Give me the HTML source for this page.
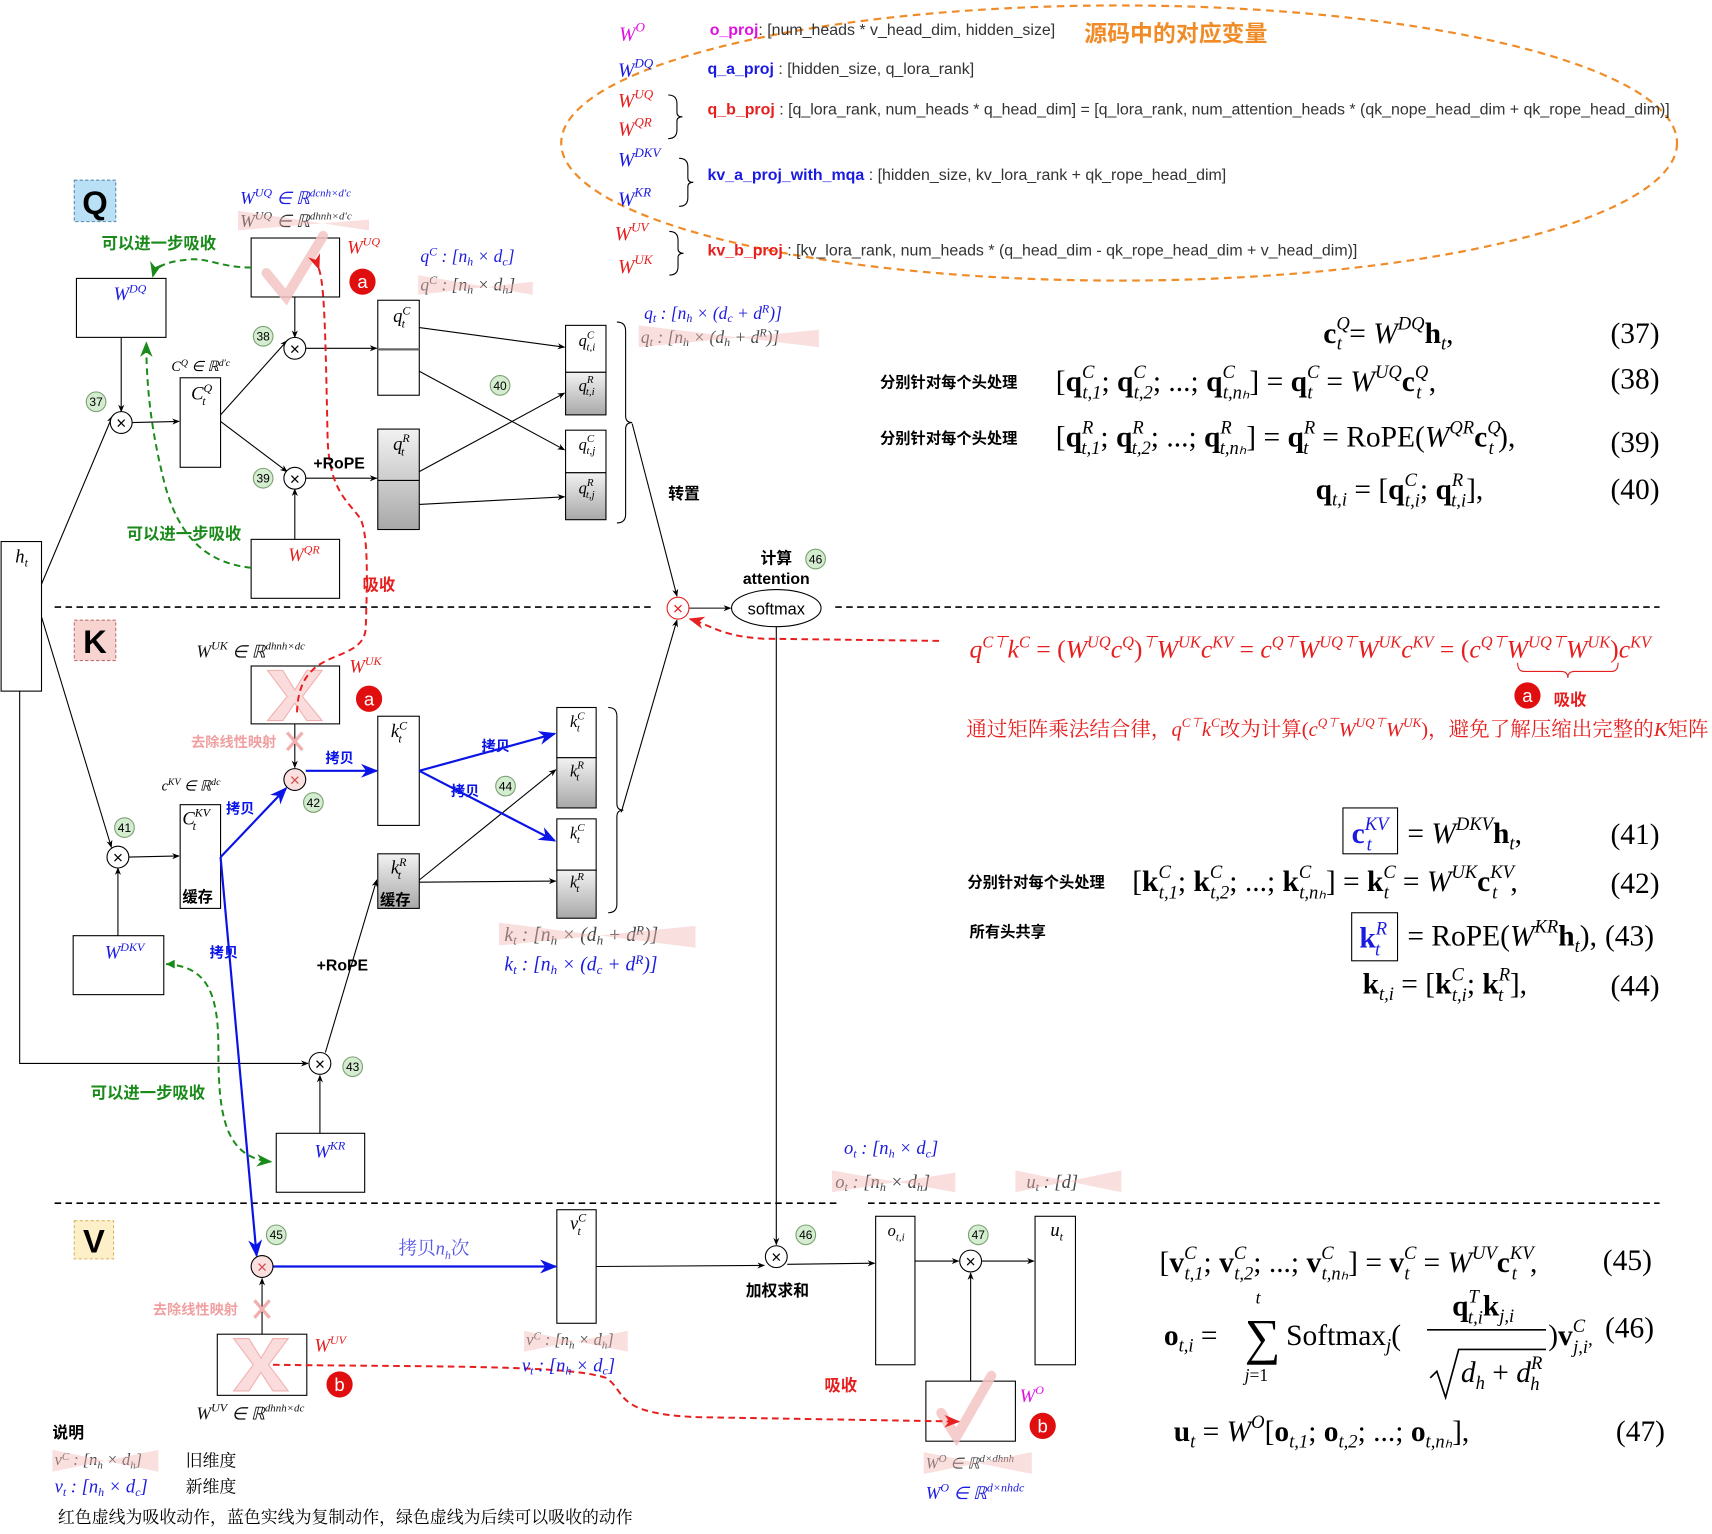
<!DOCTYPE html>
<html><head><meta charset="utf-8"><style>
html,body{margin:0;padding:0;background:#fff}
svg{display:block}
.t{font-family:"Liberation Sans","Noto Sans CJK SC",sans-serif}
.s{font-family:"Liberation Serif","Noto Serif CJK SC",serif}
.m{font-family:"Liberation Serif",serif;font-style:italic}
.cb{font-family:"Liberation Sans","Noto Sans CJK SC",sans-serif;font-weight:bold}
</style></head><body>
<svg width="1712" height="1534" viewBox="0 0 1568 1405" xmlns="http://www.w3.org/2000/svg">
<defs>
<marker id="ak" viewBox="0 0 10 10" refX="9" refY="5" markerWidth="7" markerHeight="7" orient="auto"><path d="M0,1 L10,5 L0,9 L3,5z" fill="#000"/></marker>
<marker id="ab" viewBox="0 0 10 10" refX="9" refY="5" markerWidth="8" markerHeight="8" orient="auto"><path d="M0,1 L10,5 L0,9 L3,5z" fill="#0a14e6"/></marker>
<marker id="ar" viewBox="0 0 10 10" refX="9" refY="5" markerWidth="8" markerHeight="8" orient="auto"><path d="M0,1 L10,5 L0,9 L3,5z" fill="#e62020"/></marker>
<marker id="ag" viewBox="0 0 10 10" refX="9" refY="5" markerWidth="8" markerHeight="8" orient="auto"><path d="M0,1 L10,5 L0,9 L3,5z" fill="#1a8a1a"/></marker>
<linearGradient id="gr" x1="0" y1="0" x2="0" y2="1"><stop offset="0" stop-color="#f2f2f2"/><stop offset="1" stop-color="#a8a8a8"/></linearGradient>
</defs>

<ellipse cx="1025" cy="131" rx="511" ry="126" fill="none" stroke="#f08c28" stroke-width="2" stroke-dasharray="7,5"/>
<g class="m" font-size="18">
<text x="567" y="37" fill="#e010e0">W<tspan dy="-8" font-size="12">O</tspan></text>
<text x="566" y="70" fill="#1a1ae0">W<tspan dy="-8" font-size="12">DQ</tspan></text>
<text x="566" y="98" fill="#e61e1e">W<tspan dy="-8" font-size="12">UQ</tspan></text>
<text x="566" y="124" fill="#e61e1e">W<tspan dy="-8" font-size="12">QR</tspan></text>
<text x="566" y="152" fill="#1a1ae0">W<tspan dy="-8" font-size="12">DKV</tspan></text>
<text x="566" y="188" fill="#1a1ae0">W<tspan dy="-8" font-size="12">KR</tspan></text>
<text x="563" y="220" fill="#e61e1e">W<tspan dy="-8" font-size="12">UV</tspan></text>
<text x="566" y="250" fill="#e61e1e">W<tspan dy="-8" font-size="12">UK</tspan></text>
</g>
<g fill="none" stroke="#000" stroke-width="1">
<path d="M612,87 q8,0 8,8 v8 q0,4 5,4 q-5,0 -5,4 v8 q0,8 -8,8"/>
<path d="M622,145 q8,0 8,8 v10 q0,4 5,4 q-5,0 -5,4 v10 q0,8 -8,8"/>
<path d="M613,212 q8,0 8,8 v8 q0,4 5,4 q-5,0 -5,4 v8 q0,8 -8,8"/>
</g>
<g class="t" font-size="14.6" fill="#333">
<text x="650" y="32"><tspan fill="#e010e0" font-weight="bold">o_proj</tspan>: [num_heads * v_head_dim, hidden_size]</text>
<text x="648" y="68"><tspan fill="#1a1ae0" font-weight="bold">q_a_proj</tspan> :  [hidden_size, q_lora_rank]</text>
<text x="648" y="105"><tspan fill="#e61e1e" font-weight="bold">q_b_proj</tspan> : [q_lora_rank, num_heads * q_head_dim] = [q_lora_rank, num_attention_heads * (qk_nope_head_dim + qk_rope_head_dim)]</text>
<text x="648" y="165"><tspan fill="#1a1ae0" font-weight="bold">kv_a_proj_with_mqa</tspan> : [hidden_size,   kv_lora_rank + qk_rope_head_dim]</text>
<text x="648" y="234"><tspan fill="#e61e1e" font-weight="bold">kv_b_proj</tspan> : [kv_lora_rank,   num_heads * (q_head_dim - qk_rope_head_dim + v_head_dim)]</text>
</g>
<text x="993" y="38" class="cb" font-size="21" fill="#f08c28">源码中的对应变量</text>

<rect x="68" y="165" width="38" height="38" fill="#b9e0f5" stroke="#5a8ab0" stroke-dasharray="3,2"/>
<text x="87" y="196" class="t" font-size="30" font-weight="bold" text-anchor="middle">Q</text>
<rect x="68" y="568" width="38" height="37" fill="#f8d4d0" stroke="#c07070" stroke-dasharray="3,2"/>
<text x="87" y="598" class="t" font-size="30" font-weight="bold" text-anchor="middle">K</text>
<rect x="68" y="1118" width="36" height="35" fill="#fdf0c8" stroke="#d8b860" stroke-dasharray="3,2"/>
<text x="86" y="1147" class="t" font-size="30" font-weight="bold" text-anchor="middle">V</text>

<g stroke="#000" stroke-width="1.5" stroke-dasharray="6,4">
<line x1="50" y1="556" x2="600" y2="556"/><line x1="765" y1="556" x2="1520" y2="556"/>
<line x1="50" y1="1102" x2="767" y2="1102"/><line x1="795" y1="1102" x2="1520" y2="1102"/>
</g>

<g fill="#fff" stroke="#000" stroke-width="1">
<rect x="1" y="496" width="37" height="137"/>
<rect x="70" y="255" width="82" height="54"/>
<rect x="230" y="218" width="81" height="54"/>
<rect x="165" y="346" width="37" height="82"/>
<rect x="346" y="275" width="38" height="87"/>
<rect x="230" y="494" width="81" height="54"/>
<rect x="518" y="298" width="37" height="43"/>
<rect x="518" y="394" width="37" height="39"/>
<rect x="230" y="610" width="81" height="53"/>
<rect x="346" y="656" width="38" height="100"/>
<rect x="510" y="648" width="36" height="46"/>
<rect x="510" y="750" width="36" height="47"/>
<rect x="165" y="737" width="37" height="95"/>
<rect x="67" y="857" width="83" height="54"/>
<rect x="253" y="1038" width="81" height="54"/>
<rect x="510" y="1108" width="36" height="104"/>
<rect x="802" y="1114" width="36" height="136"/>
<rect x="948" y="1114" width="37" height="136"/>
<rect x="199" y="1222" width="82" height="56"/>
<rect x="848" y="1265" width="82" height="55"/>
</g>
<g fill="url(#gr)" stroke="#000" stroke-width="1">
<rect x="346" y="393" width="38" height="92"/>
<rect x="518" y="341" width="37" height="39"/>
<rect x="518" y="433" width="37" height="43"/>
<rect x="510" y="694" width="36" height="46"/>
<rect x="510" y="797" width="36" height="44"/>
<rect x="346" y="782" width="38" height="50"/>
</g>
<line x1="346" y1="320" x2="384" y2="320" stroke="#666" stroke-width="2"/>
<line x1="346" y1="440" x2="384" y2="440" stroke="#000"/>

<g fill="#fbd9d9" stroke="#f0a8a8" stroke-width="1" opacity="0.9">
<path d="M245,614 h14 l11,18 l11,-18 h14 l-18,24 l18,22 h-14 l-11,-16 l-11,16 h-14 l18,-22z"/>
<path d="M214,1226 h14 l11,18 l11,-18 h14 l-18,24 l18,24 h-14 l-11,-17 l-11,17 h-14 l18,-24z"/>
</g>
<g fill="none" stroke="#f5c4c4" stroke-width="9" stroke-linecap="round" opacity="0.85">
<path d="M244,250 l18,22 l34,-56"/>
<path d="M862,1294 l14,22 l32,-56"/>
</g>

<g stroke="#000" stroke-width="1" fill="none" marker-end="url(#ak)">
<line x1="38" y1="535" x2="103" y2="381"/>
<line x1="38" y1="565" x2="102" y2="776"/>
<line x1="111" y1="309" x2="111" y2="377"/>
<line x1="121" y1="387" x2="164" y2="386"/>
<line x1="202" y1="380" x2="263" y2="312"/>
<line x1="202" y1="386" x2="263" y2="432"/>
<line x1="270" y1="272" x2="270" y2="309"/>
<line x1="280" y1="319" x2="345" y2="319"/>
<line x1="270" y1="494" x2="270" y2="448"/>
<line x1="280" y1="438" x2="345" y2="438"/>
<line x1="384" y1="300" x2="517" y2="318"/>
<line x1="384" y1="340" x2="517" y2="412"/>
<line x1="384" y1="432" x2="517" y2="360"/>
<line x1="384" y1="462" x2="517" y2="455"/>
<line x1="579" y1="388" x2="620" y2="546"/>
<line x1="631" y1="557" x2="669" y2="557"/>
<line x1="569" y1="744" x2="620" y2="568"/>
<line x1="270" y1="663" x2="270" y2="703"/>
<line x1="118" y1="785" x2="164" y2="784"/>
<line x1="108" y1="857" x2="108" y2="795"/>
<path d="M18,633 V974 H282"/>
<line x1="293" y1="1038" x2="293" y2="985"/>
<line x1="298" y1="964" x2="345" y2="806"/>
<line x1="384" y1="808" x2="509" y2="807"/>
<line x1="384" y1="806" x2="509" y2="705"/>
<line x1="711" y1="574" x2="711" y2="1140"/>
<line x1="546" y1="1160" x2="700" y2="1159"/>
<line x1="721" y1="1158" x2="801" y2="1157"/>
<line x1="838" y1="1155" x2="878" y2="1155"/>
<line x1="899" y1="1155" x2="947" y2="1155"/>
<line x1="889" y1="1265" x2="889" y2="1166"/>
<line x1="240" y1="1222" x2="240" y2="1171"/>
</g>
<path d="M565,295 q8,0 8,8 v78 q0,6 6,6 q-6,0 -6,6 v78 q0,8 -8,8" fill="none" stroke="#000"/>
<path d="M557,648 q8,0 8,8 v80 q0,6 6,6 q-6,0 -6,6 v80 q0,8 -8,8" fill="none" stroke="#000"/>

<g stroke="#0a14e6" stroke-width="2" fill="none" marker-end="url(#ab)">
<line x1="280" y1="706" x2="345" y2="706"/>
<line x1="384" y1="706" x2="508" y2="672"/>
<line x1="384" y1="706" x2="508" y2="770"/>
<line x1="202" y1="785" x2="262" y2="722"/>
<line x1="202" y1="785" x2="235" y2="1150"/>
<line x1="250" y1="1160" x2="509" y2="1160"/>
</g>

<g fill="#fff" stroke="#000" stroke-width="1">
<circle cx="111" cy="387" r="10"/><circle cx="270" cy="319" r="10"/><circle cx="270" cy="438" r="10"/>
<circle cx="108" cy="785" r="10"/><circle cx="293" cy="974" r="10"/>
<circle cx="711" cy="1151" r="10"/><circle cx="889" cy="1155" r="10"/>
</g>
<circle cx="621" cy="557" r="10" fill="#fff" stroke="#e61e1e"/>
<g fill="#fbe0e0" stroke="#000" stroke-width="1">
<circle cx="270" cy="714" r="10"/><circle cx="240" cy="1160" r="10"/>
</g>
<g class="t" font-size="16" text-anchor="middle" fill="#000">
<text x="111" y="393">×</text><text x="270" y="325">×</text><text x="270" y="444">×</text>
<text x="108" y="791">×</text><text x="293" y="980">×</text><text x="711" y="1157">×</text><text x="889" y="1161">×</text>
<text x="270" y="720" fill="#d05050">×</text><text x="240" y="1166" fill="#d05050">×</text>
<text x="621" y="563" fill="#e61e1e">×</text>
</g>
<ellipse cx="711" cy="557" rx="41" ry="17" fill="#fff" stroke="#000"/>
<text x="711" y="563" class="t" font-size="15" text-anchor="middle">softmax</text>

<g fill="#d4ecd0" stroke="#7aa070" stroke-width="1">
<circle cx="88" cy="368" r="9"/><circle cx="241" cy="308" r="9"/><circle cx="241" cy="438" r="9"/>
<circle cx="458" cy="353" r="9"/><circle cx="747" cy="512" r="9"/><circle cx="114" cy="758" r="9"/>
<circle cx="287" cy="735" r="9"/><circle cx="463" cy="720" r="9"/><circle cx="323" cy="977" r="9"/>
<circle cx="253" cy="1131" r="9"/><circle cx="738" cy="1131" r="9"/><circle cx="896" cy="1131" r="9"/>
</g>
<g class="t" font-size="11" text-anchor="middle">
<text x="88" y="372">37</text><text x="241" y="312">38</text><text x="241" y="442">39</text>
<text x="458" y="357">40</text><text x="747" y="516">46</text><text x="114" y="762">41</text>
<text x="287" y="739">42</text><text x="463" y="724">44</text><text x="323" y="981">43</text>
<text x="253" y="1135">45</text><text x="738" y="1135">46</text><text x="896" y="1135">47</text>
</g>

<g stroke="#1a8a1a" stroke-width="1.8" fill="none" stroke-dasharray="6,4">
<path d="M230,245 C200,245 190,235 170,238 C150,240 142,245 140,253" marker-end="url(#ag)"/>
<path d="M230,520 C180,515 160,480 150,440 C140,400 134,360 134,314" marker-end="url(#ag)"/>
<path d="M152,883 C190,885 200,910 200,960 C200,1020 205,1060 248,1064" marker-end="url(#ag)"/>
</g>
<path d="M160,879 l-8,4 l8,4z" fill="#1a8a1a"/>
<g class="cb" font-size="15" fill="#1a8a1a">
<text x="93" y="228">可以进一步吸收</text>
<text x="116" y="494">可以进一步吸收</text>
<text x="83" y="1006">可以进一步吸收</text>
</g>

<g stroke="#e61e1e" stroke-width="1.8" fill="none" stroke-dasharray="6,4">
<path d="M292,246 C297,260 298,300 300,400 C301,450 320,460 330,475 C338,490 336,540 335,575 C334,600 300,598 285,615 C275,625 272,640 272,655" marker-start="url(#ar)"/>
<path d="M860,587 L700,585 C660,583 650,572 632,567" marker-end="url(#ar)"/>
<path d="M250,1250 C400,1252 520,1250 555,1262 C575,1275 560,1295 640,1298 L878,1302" marker-end="url(#ar)"/>
</g>
<g class="cb" font-size="15" fill="#e61e1e">
<text x="332" y="541">吸收</text>
<text x="755" y="1274">吸收</text>
<text x="1423" y="646">吸收</text>
</g>
<g fill="#e00e0e">
<circle cx="332" cy="258" r="12"/><circle cx="338" cy="640" r="12"/><circle cx="311" cy="1268" r="12"/>
<circle cx="955" cy="1306" r="12"/><circle cx="1399" cy="637" r="12"/>
</g>
<g class="t" font-size="17" fill="#fff" text-anchor="middle">
<text x="332" y="264">a</text><text x="338" y="646">a</text><text x="311" y="1274">b</text>
<text x="955" y="1312">b</text><text x="1399" y="643">a</text>
</g>

<g class="cb" font-size="14.5">
<text x="287" y="429">+RoPE</text>
<text x="290" y="889">+RoPE</text>
<text x="612" y="457">转置</text>
<text x="711" y="516" text-anchor="middle">计算</text>
<text x="711" y="535" text-anchor="middle">attention</text>
<text x="712" y="1187" text-anchor="middle">加权求和</text>
<text x="167" y="826" font-size="14">缓存</text>
<text x="348" y="829" font-size="14">缓存</text>
<text x="48" y="1317">说明</text>
</g>
<g class="cb" font-size="13" fill="#0a14e6">
<text x="298" y="699">拷贝</text><text x="441" y="688">拷贝</text><text x="413" y="729">拷贝</text>
<text x="207" y="745">拷贝</text><text x="192" y="877">拷贝</text>
</g>
<text x="365" y="1149" class="s" font-size="17" fill="#5a5ae8">拷贝<tspan class="m">n</tspan><tspan class="m" font-size="11" dy="4">h</tspan><tspan dy="-4">次</tspan></text>
<g class="cb" font-size="13" fill="#f0a0a0">
<text x="175" y="684">去除线性映射</text><text x="140" y="1204">去除线性映射</text>
</g>
<g stroke="#f0b0b0" stroke-width="3"><path d="M263,671 l14,16 M277,671 l-14,16"/><path d="M233,1191 l14,16 M247,1191 l-14,16"/></g>

<g class="m" font-size="17">
<text x="14" y="515">h<tspan font-size="11" dy="4">t</tspan></text>
<text x="104" y="275" fill="#1a1ae0">W<tspan font-size="11" dy="-7">DQ</tspan></text>
<text x="318" y="232" fill="#e61e1e">W<tspan font-size="11" dy="-7">UQ</tspan></text>
<text x="175" y="366">C<tspan font-size="11" dy="-7">Q</tspan><tspan font-size="11" dx="-9" dy="12">t</tspan></text>
<text x="360" y="295">q<tspan font-size="11" dy="-7">C</tspan><tspan font-size="11" dx="-8" dy="12">t</tspan></text>
<text x="360" y="412">q<tspan font-size="11" dy="-7">R</tspan><tspan font-size="11" dx="-8" dy="12">t</tspan></text>
<text x="264" y="514" fill="#e61e1e">W<tspan font-size="11" dy="-7">QR</tspan></text>
<text x="530" y="317" font-size="15">q<tspan font-size="10" dy="-7">C</tspan><tspan font-size="10" dx="-7" dy="11">t,i</tspan></text>
<text x="530" y="358" font-size="15">q<tspan font-size="10" dy="-7">R</tspan><tspan font-size="10" dx="-7" dy="11">t,i</tspan></text>
<text x="530" y="412" font-size="15">q<tspan font-size="10" dy="-7">C</tspan><tspan font-size="10" dx="-7" dy="11">t,j</tspan></text>
<text x="530" y="452" font-size="15">q<tspan font-size="10" dy="-7">R</tspan><tspan font-size="10" dx="-7" dy="11">t,j</tspan></text>
<text x="320" y="616" fill="#e61e1e">W<tspan font-size="11" dy="-7">UK</tspan></text>
<text x="358" y="675">k<tspan font-size="11" dy="-7">C</tspan><tspan font-size="11" dx="-8" dy="12">t</tspan></text>
<text x="522" y="666" font-size="15">k<tspan font-size="10" dy="-7">C</tspan><tspan font-size="10" dx="-7" dy="11">t</tspan></text>
<text x="522" y="711" font-size="15">k<tspan font-size="10" dy="-7">R</tspan><tspan font-size="10" dx="-7" dy="11">t</tspan></text>
<text x="522" y="768" font-size="15">k<tspan font-size="10" dy="-7">C</tspan><tspan font-size="10" dx="-7" dy="11">t</tspan></text>
<text x="522" y="813" font-size="15">k<tspan font-size="10" dy="-7">R</tspan><tspan font-size="10" dx="-7" dy="11">t</tspan></text>
<text x="358" y="800">k<tspan font-size="11" dy="-7">R</tspan><tspan font-size="11" dx="-8" dy="12">t</tspan></text>
<text x="167" y="755">C<tspan font-size="11" dy="-7">KV</tspan><tspan font-size="11" dx="-16" dy="12">t</tspan></text>
<text x="96" y="878" fill="#1a1ae0">W<tspan font-size="11" dy="-7">DKV</tspan></text>
<text x="288" y="1060" fill="#1a1ae0">W<tspan font-size="11" dy="-7">KR</tspan></text>
<text x="522" y="1126">v<tspan font-size="11" dy="-7">C</tspan><tspan font-size="11" dx="-8" dy="12">t</tspan></text>
<text x="813" y="1132" font-size="15">o<tspan font-size="10" dy="4">t,i</tspan></text>
<text x="962" y="1132">u<tspan font-size="11" dy="4">t</tspan></text>
<text x="288" y="1238" fill="#e61e1e">W<tspan font-size="11" dy="-7">UV</tspan></text>
<text x="934" y="1284" fill="#e010e0">W<tspan font-size="11" dy="-7">O</tspan></text>
</g>

<g class="m" font-size="16">
<text x="220" y="187" fill="#1a1ae0">W<tspan font-size="11" dy="-7">UQ</tspan><tspan dy="7"> ∈ ℝ</tspan><tspan font-size="10" dy="-7">dcnh×d′c</tspan></text>
<text x="220" y="208" fill="#333">W<tspan font-size="11" dy="-7">UQ</tspan><tspan dy="7"> ∈ ℝ</tspan><tspan font-size="10" dy="-7">dhnh×d′c</tspan></text>
<text x="157" y="340" font-size="13">C<tspan font-size="9" dy="-5">Q</tspan><tspan dy="5"> ∈ ℝ</tspan><tspan font-size="9" dy="-5">d′c</tspan></text>
<text x="385" y="240" fill="#1a1ae0">q<tspan font-size="11" dy="-6">C</tspan><tspan dy="6">  : [n</tspan><tspan font-size="11" dy="3">h</tspan><tspan dy="-3"> × d</tspan><tspan font-size="11" dy="3">c</tspan><tspan dy="-3">]</tspan></text>
<text x="385" y="266" fill="#444">q<tspan font-size="11" dy="-6">C</tspan><tspan dy="6">  : [n</tspan><tspan font-size="11" dy="3">h</tspan><tspan dy="-3"> × d</tspan><tspan font-size="11" dy="3">h</tspan><tspan dy="-3">]</tspan></text>
<text x="590" y="292" fill="#1a1ae0">q<tspan font-size="11" dy="3">t</tspan><tspan dy="-3"> : [n</tspan><tspan font-size="11" dy="3">h</tspan><tspan dy="-3"> × (d</tspan><tspan font-size="11" dy="3">c</tspan><tspan dy="-3"> + d</tspan><tspan font-size="11" dy="-6">R</tspan><tspan dy="6">)]</tspan></text>
<text x="587" y="314" fill="#444">q<tspan font-size="11" dy="3">t</tspan><tspan dy="-3"> : [n</tspan><tspan font-size="11" dy="3">h</tspan><tspan dy="-3"> × (d</tspan><tspan font-size="11" dy="3">h</tspan><tspan dy="-3"> + d</tspan><tspan font-size="11" dy="-6">R</tspan><tspan dy="6">)]</tspan></text>
<text x="180" y="602" fill="#111">W<tspan font-size="11" dy="-7">UK</tspan><tspan dy="7"> ∈ ℝ</tspan><tspan font-size="10" dy="-7">dhnh×dc</tspan></text>
<text x="148" y="724" font-size="13">c<tspan font-size="9" dy="-5">KV</tspan><tspan dy="5"> ∈ ℝ</tspan><tspan font-size="9" dy="-5">dc</tspan></text>
<text x="462" y="862" fill="#444" font-size="18">k<tspan font-size="12" dy="3">t</tspan><tspan dy="-3"> : [n</tspan><tspan font-size="12" dy="3">h</tspan><tspan dy="-3"> × (d</tspan><tspan font-size="12" dy="3">h</tspan><tspan dy="-3"> + d</tspan><tspan font-size="12" dy="-6">R</tspan><tspan dy="6">)]</tspan></text>
<text x="462" y="889" fill="#1a1ae0" font-size="18">k<tspan font-size="12" dy="3">t</tspan><tspan dy="-3"> : [n</tspan><tspan font-size="12" dy="3">h</tspan><tspan dy="-3"> × (d</tspan><tspan font-size="12" dy="3">c</tspan><tspan dy="-3"> + d</tspan><tspan font-size="12" dy="-6">R</tspan><tspan dy="6">)]</tspan></text>
<text x="773" y="1057" fill="#1a1ae0" font-size="17">o<tspan font-size="11" dy="3">t</tspan><tspan dy="-3"> : [n</tspan><tspan font-size="11" dy="3">h</tspan><tspan dy="-3"> × d</tspan><tspan font-size="11" dy="3">c</tspan><tspan dy="-3">]</tspan></text>
<text x="765" y="1088" fill="#444" font-size="17">o<tspan font-size="11" dy="3">t</tspan><tspan dy="-3"> : [n</tspan><tspan font-size="11" dy="3">h</tspan><tspan dy="-3"> × d</tspan><tspan font-size="11" dy="3">h</tspan><tspan dy="-3">]</tspan></text>
<text x="940" y="1088" fill="#444" font-size="17">u<tspan font-size="11" dy="3">t</tspan><tspan dy="-3"> : [d]</tspan></text>
<text x="482" y="1232" fill="#444" font-size="15">v<tspan font-size="10" dy="-5">C</tspan><tspan dy="5"> : [n</tspan><tspan font-size="10" dy="3">h</tspan><tspan dy="-3"> × d</tspan><tspan font-size="10" dy="3">h</tspan><tspan dy="-3">]</tspan></text>
<text x="478" y="1256" fill="#1a1ae0" font-size="17">v<tspan font-size="11" dy="3">t</tspan><tspan dy="-3"> : [n</tspan><tspan font-size="11" dy="3">h</tspan><tspan dy="-3"> × d</tspan><tspan font-size="11" dy="3">c</tspan><tspan dy="-3">]</tspan></text>
<text x="180" y="1300" fill="#111">W<tspan font-size="11" dy="-7">UV</tspan><tspan dy="7"> ∈ ℝ</tspan><tspan font-size="10" dy="-7">dhnh×dc</tspan></text>
<text x="848" y="1345" fill="#444" font-size="14">W<tspan font-size="10" dy="-6">O</tspan><tspan dy="6"> ∈ ℝ</tspan><tspan font-size="10" dy="-6">d×dhnh</tspan></text>
<text x="848" y="1373" fill="#1a1ae0" font-size="16">W<tspan font-size="11" dy="-7">O</tspan><tspan dy="7"> ∈ ℝ</tspan><tspan font-size="11" dy="-7">d×nhdc</tspan></text>
<text x="50" y="1342" fill="#444" font-size="15">v<tspan font-size="10" dy="-5">C</tspan><tspan dy="5"> : [n</tspan><tspan font-size="10" dy="3">h</tspan><tspan dy="-3"> × d</tspan><tspan font-size="10" dy="3">h</tspan><tspan dy="-3">]</tspan></text>
<text x="50" y="1367" fill="#1a1ae0" font-size="17">v<tspan font-size="11" dy="3">t</tspan><tspan dy="-3"> : [n</tspan><tspan font-size="11" dy="3">h</tspan><tspan dy="-3"> × d</tspan><tspan font-size="11" dy="3">c</tspan><tspan dy="-3">]</tspan></text>
</g>
<g class="s" font-size="15.5">
<text x="170" y="1343">旧维度</text><text x="170" y="1367">新维度</text>
<text x="53" y="1395">红色虚线为吸收动作，蓝色实线为复制动作，绿色虚线为后续可以吸收的动作</text>
</g>
<g fill="#f5b8b8" opacity="0.45">
<path d="M218,193 L338,211 L338,201 L218,211z"/>
<path d="M383,252 L488,270 L488,258 L383,270z"/>
<path d="M585,298 L750,318 L750,302 L585,318z"/>
<path d="M457,845 L637,868 L637,848 L457,866z"/>
<path d="M762,1072 L875,1092 L875,1074 L762,1092z"/>
<path d="M930,1072 L1027,1092 L1027,1072 L930,1092z"/>
<path d="M480,1219 L575,1238 L575,1219 L480,1238z"/>
<path d="M846,1330 L945,1350 L945,1330 L846,1350z"/>
<path d="M48,1328 L145,1348 L145,1328 L48,1348z"/>
</g>

<g class="cb" font-size="14">
<text x="806" y="355">分别针对每个头处理</text>
<text x="806" y="406">分别针对每个头处理</text>
<text x="886" y="813">分别针对每个头处理</text>
<text x="888" y="858">所有头共享</text>
</g>
<g class="s" font-size="27">
<text x="1212" y="314"><tspan font-weight="bold">c</tspan><tspan font-size="17" dy="-12" font-style="italic">Q</tspan><tspan font-size="17" dx="-12" dy="18" font-style="italic">t</tspan><tspan dy="-6"> = </tspan><tspan font-style="italic">W</tspan><tspan font-size="17" dy="-12" font-style="italic">DQ</tspan><tspan dy="12" font-weight="bold">h</tspan><tspan font-size="17" dy="6" font-style="italic">t</tspan><tspan dy="-6">,</tspan></text>
<text x="967" y="358">[<tspan font-weight="bold">q</tspan><tspan font-size="17" dy="-12" font-style="italic">C</tspan><tspan font-size="17" dx="-11" dy="19" font-style="italic">t,1</tspan><tspan dy="-7">; </tspan><tspan font-weight="bold">q</tspan><tspan font-size="17" dy="-12" font-style="italic">C</tspan><tspan font-size="17" dx="-11" dy="19" font-style="italic">t,2</tspan><tspan dy="-7">; ...; </tspan><tspan font-weight="bold">q</tspan><tspan font-size="17" dy="-12" font-style="italic">C</tspan><tspan font-size="17" dx="-11" dy="19" font-style="italic">t,nₕ</tspan><tspan dy="-7">] = </tspan><tspan font-weight="bold">q</tspan><tspan font-size="17" dy="-12" font-style="italic">C</tspan><tspan font-size="17" dx="-11" dy="19" font-style="italic">t</tspan><tspan dy="-7" dx="6"> = </tspan><tspan font-style="italic">W</tspan><tspan font-size="17" dy="-12" font-style="italic">UQ</tspan><tspan dy="12" font-weight="bold">c</tspan><tspan font-size="17" dy="-12" font-style="italic">Q</tspan><tspan font-size="17" dx="-11" dy="19" font-style="italic">t</tspan><tspan dy="-7"> ,</tspan></text>
<text x="967" y="409">[<tspan font-weight="bold">q</tspan><tspan font-size="17" dy="-12" font-style="italic">R</tspan><tspan font-size="17" dx="-11" dy="19" font-style="italic">t,1</tspan><tspan dy="-7">; </tspan><tspan font-weight="bold">q</tspan><tspan font-size="17" dy="-12" font-style="italic">R</tspan><tspan font-size="17" dx="-11" dy="19" font-style="italic">t,2</tspan><tspan dy="-7">; ...; </tspan><tspan font-weight="bold">q</tspan><tspan font-size="17" dy="-12" font-style="italic">R</tspan><tspan font-size="17" dx="-11" dy="19" font-style="italic">t,nₕ</tspan><tspan dy="-7">] = </tspan><tspan font-weight="bold">q</tspan><tspan font-size="17" dy="-12" font-style="italic">R</tspan><tspan font-size="17" dx="-11" dy="19" font-style="italic">t</tspan><tspan dy="-7" dx="6"> = RoPE(</tspan><tspan font-style="italic">W</tspan><tspan font-size="17" dy="-12" font-style="italic">QR</tspan><tspan dy="12" font-weight="bold">c</tspan><tspan font-size="17" dy="-12" font-style="italic">Q</tspan><tspan font-size="17" dx="-11" dy="19" font-style="italic">t</tspan><tspan dy="-7" dx="4">),</tspan></text>
<text x="1205" y="457"><tspan font-weight="bold">q</tspan><tspan font-size="17" dy="6" font-style="italic">t,i</tspan><tspan dy="-6"> = [</tspan><tspan font-weight="bold">q</tspan><tspan font-size="17" dy="-12" font-style="italic">C</tspan><tspan font-size="17" dx="-11" dy="19" font-style="italic">t,i</tspan><tspan dy="-7">; </tspan><tspan font-weight="bold">q</tspan><tspan font-size="17" dy="-12" font-style="italic">R</tspan><tspan font-size="17" dx="-11" dy="19" font-style="italic">t,i</tspan><tspan dy="-7">],</tspan></text>
<text x="1475" y="314">(37)</text><text x="1475" y="356">(38)</text><text x="1475" y="414">(39)</text><text x="1475" y="457">(40)</text>

<text x="1289" y="772"> = <tspan font-style="italic">W</tspan><tspan font-size="17" dy="-12" font-style="italic">DKV</tspan><tspan dy="12" font-weight="bold">h</tspan><tspan font-size="17" dy="6" font-style="italic">t</tspan><tspan dy="-6">,</tspan></text>
<text x="1037" y="816">[<tspan font-weight="bold">k</tspan><tspan font-size="17" dy="-12" font-style="italic">C</tspan><tspan font-size="17" dx="-11" dy="19" font-style="italic">t,1</tspan><tspan dy="-7">; </tspan><tspan font-weight="bold">k</tspan><tspan font-size="17" dy="-12" font-style="italic">C</tspan><tspan font-size="17" dx="-11" dy="19" font-style="italic">t,2</tspan><tspan dy="-7">; ...; </tspan><tspan font-weight="bold">k</tspan><tspan font-size="17" dy="-12" font-style="italic">C</tspan><tspan font-size="17" dx="-11" dy="19" font-style="italic">t,nₕ</tspan><tspan dy="-7">] = </tspan><tspan font-weight="bold">k</tspan><tspan font-size="17" dy="-12" font-style="italic">C</tspan><tspan font-size="17" dx="-11" dy="19" font-style="italic">t</tspan><tspan dy="-7" dx="6"> = </tspan><tspan font-style="italic">W</tspan><tspan font-size="17" dy="-12" font-style="italic">UK</tspan><tspan dy="12" font-weight="bold">c</tspan><tspan font-size="17" dy="-12" font-style="italic">KV</tspan><tspan font-size="17" dx="-20" dy="19" font-style="italic">t</tspan><tspan dy="-7" dx="12">,</tspan></text>
<text x="1289" y="866"> = RoPE(<tspan font-style="italic">W</tspan><tspan font-size="17" dy="-12" font-style="italic">KR</tspan><tspan dy="12" font-weight="bold">h</tspan><tspan font-size="17" dy="6" font-style="italic">t</tspan><tspan dy="-6">),</tspan></text>
<text x="1248" y="910"><tspan font-weight="bold">k</tspan><tspan font-size="17" dy="6" font-style="italic">t,i</tspan><tspan dy="-6"> = [</tspan><tspan font-weight="bold">k</tspan><tspan font-size="17" dy="-12" font-style="italic">C</tspan><tspan font-size="17" dx="-11" dy="19" font-style="italic">t,i</tspan><tspan dy="-7">; </tspan><tspan font-weight="bold">k</tspan><tspan font-size="17" dy="-12" font-style="italic">R</tspan><tspan font-size="17" dx="-11" dy="19" font-style="italic">t</tspan><tspan dy="-7" dx="6">],</tspan></text>
<text x="1475" y="773">(41)</text><text x="1475" y="818">(42)</text><text x="1470" y="866">(43)</text><text x="1475" y="912">(44)</text>

<text x="1062" y="1165">[<tspan font-weight="bold">v</tspan><tspan font-size="17" dy="-12" font-style="italic">C</tspan><tspan font-size="17" dx="-11" dy="19" font-style="italic">t,1</tspan><tspan dy="-7">; </tspan><tspan font-weight="bold">v</tspan><tspan font-size="17" dy="-12" font-style="italic">C</tspan><tspan font-size="17" dx="-11" dy="19" font-style="italic">t,2</tspan><tspan dy="-7">; ...; </tspan><tspan font-weight="bold">v</tspan><tspan font-size="17" dy="-12" font-style="italic">C</tspan><tspan font-size="17" dx="-11" dy="19" font-style="italic">t,nₕ</tspan><tspan dy="-7">] = </tspan><tspan font-weight="bold">v</tspan><tspan font-size="17" dy="-12" font-style="italic">C</tspan><tspan font-size="17" dx="-11" dy="19" font-style="italic">t</tspan><tspan dy="-7" dx="6"> = </tspan><tspan font-style="italic">W</tspan><tspan font-size="17" dy="-12" font-style="italic">UV</tspan><tspan dy="12" font-weight="bold">c</tspan><tspan font-size="17" dy="-12" font-style="italic">KV</tspan><tspan font-size="17" dx="-20" dy="19" font-style="italic">t</tspan><tspan dy="-7" dx="12">,</tspan></text>
<text x="1468" y="1163">(45)</text>
<text x="1066" y="1232"><tspan font-weight="bold">o</tspan><tspan font-size="17" dy="6" font-style="italic">t,i</tspan><tspan dy="-6"> =</tspan></text>
<text x="1140" y="1240" font-size="46">∑</text>
<text x="1150" y="1194" font-size="16" font-style="italic">t</text>
<text x="1140" y="1265" font-size="16"><tspan font-style="italic">j</tspan>=1</text>
<text x="1178" y="1232">Softmax<tspan font-size="17" dy="6" font-style="italic">j</tspan><tspan dy="-6">(</tspan></text>
<text x="1330" y="1205"><tspan font-weight="bold">q</tspan><tspan font-size="17" dy="-12" font-style="italic">T</tspan><tspan font-size="17" dx="-10" dy="19" font-style="italic">t,i</tspan><tspan dy="-7" font-weight="bold">k</tspan><tspan font-size="17" dy="6" font-style="italic">j,i</tspan></text>
<line x1="1307" y1="1218" x2="1416" y2="1218" stroke="#000" stroke-width="1.5"/>
<path d="M1310,1262 l6,-6 l8,24 l12,-44 h80" fill="none" stroke="#000" stroke-width="1.5"/>
<text x="1338" y="1266" font-style="italic">d<tspan font-size="17" dy="6">h</tspan><tspan dy="-6" font-style="normal"> + </tspan>d<tspan font-size="17" dy="-12">R</tspan><tspan font-size="17" dx="-11" dy="19">h</tspan></text>
<text x="1418" y="1232">)<tspan font-weight="bold">v</tspan><tspan font-size="17" dy="-12" font-style="italic">C</tspan><tspan font-size="17" dx="-11" dy="19" font-style="italic">j,i</tspan><tspan font-size="17" dy="-7">,</tspan></text>
<text x="1470" y="1225">(46)</text>
<text x="1075" y="1320"><tspan font-weight="bold">u</tspan><tspan font-size="17" dy="6" font-style="italic">t</tspan><tspan dy="-6"> = </tspan><tspan font-style="italic">W</tspan><tspan font-size="17" dy="-12" font-style="italic">O</tspan><tspan dy="12">[</tspan><tspan font-weight="bold">o</tspan><tspan font-size="17" dy="6" font-style="italic">t,1</tspan><tspan dy="-6">; </tspan><tspan font-weight="bold">o</tspan><tspan font-size="17" dy="6" font-style="italic">t,2</tspan><tspan dy="-6">; ...; </tspan><tspan font-weight="bold">o</tspan><tspan font-size="17" dy="6" font-style="italic">t,nₕ</tspan><tspan dy="-6">],</tspan></text>
<text x="1480" y="1320">(47)</text>
</g>
<rect x="1230" y="740" width="50" height="42" fill="none" stroke="#000"/>
<text x="1238" y="772" class="s" font-size="27" fill="#1a1ae0"><tspan font-weight="bold">c</tspan><tspan font-size="17" dy="-12" font-style="italic">KV</tspan><tspan font-size="17" dx="-20" dy="19" font-style="italic">t</tspan></text>
<rect x="1238" y="836" width="42" height="44" fill="none" stroke="#000"/>
<text x="1245" y="868" class="s" font-size="27" fill="#1a1ae0"><tspan font-weight="bold">k</tspan><tspan font-size="17" dy="-12" font-style="italic">R</tspan><tspan font-size="17" dx="-11" dy="19" font-style="italic">t</tspan></text>

<text x="888" y="602" class="m" font-size="23.5" fill="#e61e1e">q<tspan font-size="15" dy="-9">C⊤</tspan><tspan dy="9">k</tspan><tspan font-size="15" dy="-9">C</tspan><tspan dy="9" font-style="normal"> = (</tspan>W<tspan font-size="15" dy="-9">UQ</tspan><tspan dy="9">c</tspan><tspan font-size="15" dy="-9">Q</tspan><tspan dy="9" font-style="normal">)</tspan><tspan font-size="15" dy="-9">⊤</tspan><tspan dy="9">W</tspan><tspan font-size="15" dy="-9">UK</tspan><tspan dy="9">c</tspan><tspan font-size="15" dy="-9">KV</tspan><tspan dy="9" font-style="normal"> = </tspan>c<tspan font-size="15" dy="-9">Q⊤</tspan><tspan dy="9">W</tspan><tspan font-size="15" dy="-9">UQ⊤</tspan><tspan dy="9">W</tspan><tspan font-size="15" dy="-9">UK</tspan><tspan dy="9">c</tspan><tspan font-size="15" dy="-9">KV</tspan><tspan dy="9" font-style="normal"> = (</tspan>c<tspan font-size="15" dy="-9">Q⊤</tspan><tspan dy="9">W</tspan><tspan font-size="15" dy="-9">UQ⊤</tspan><tspan dy="9">W</tspan><tspan font-size="15" dy="-9">UK</tspan><tspan dy="9" font-style="normal">)</tspan>c<tspan font-size="15" dy="-9">KV</tspan></text>
<path d="M1390,607 q0,8 6,8 h34 q6,0 6,6 q0,-6 6,-6 h34 q6,0 6,-8" fill="none" stroke="#e61e1e"/>
<text x="885" y="674" class="s" font-size="18.8" fill="#e61e1e">通过矩阵乘法结合律，<tspan font-style="italic">q</tspan><tspan font-size="12" dy="-8" font-style="italic">C⊤</tspan><tspan dy="8" font-style="italic">k</tspan><tspan font-size="12" dy="-8" font-style="italic">C</tspan><tspan dy="8">改为计算(</tspan><tspan font-style="italic">c</tspan><tspan font-size="12" dy="-8" font-style="italic">Q⊤</tspan><tspan dy="8" font-style="italic">W</tspan><tspan font-size="12" dy="-8" font-style="italic">UQ⊤</tspan><tspan dy="8" font-style="italic">W</tspan><tspan font-size="12" dy="-8" font-style="italic">UK</tspan><tspan dy="8">)，避免了解压缩出完整的</tspan><tspan font-style="italic">K</tspan>矩阵</text>
</svg>
</body></html>
